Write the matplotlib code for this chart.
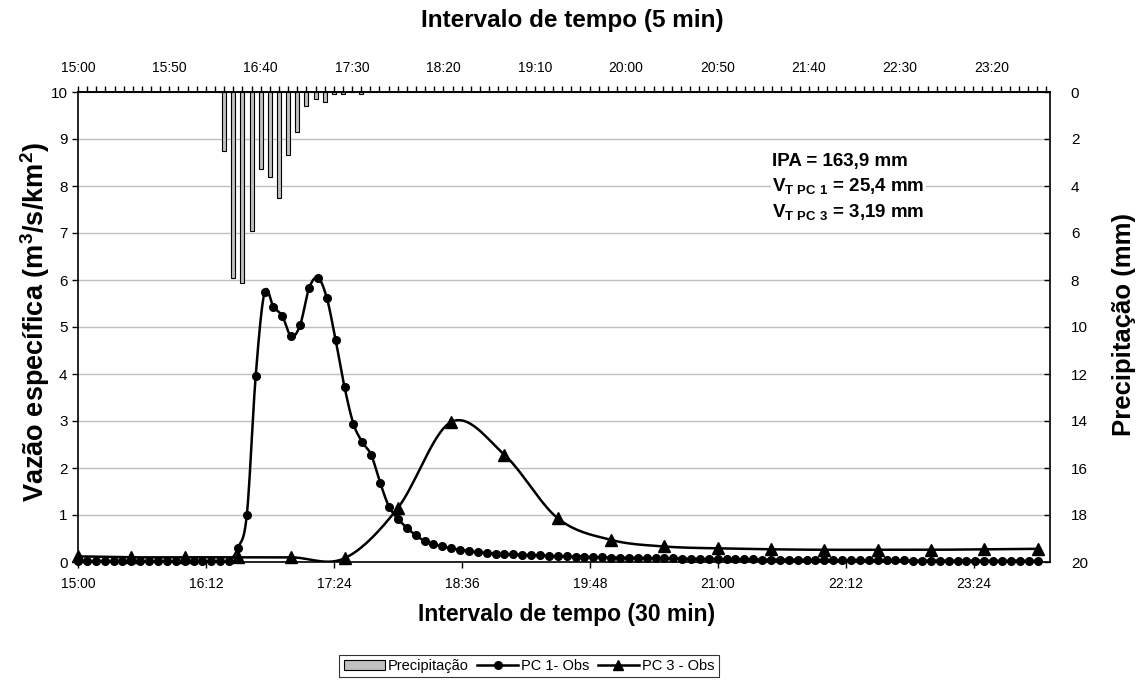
import numpy as np
import matplotlib
matplotlib.use("Agg")
import matplotlib.pyplot as plt
from matplotlib.patches import Rectangle
from matplotlib.lines import Line2D

plt.rcParams["font.family"] = ["Liberation Sans", "DejaVu Sans"]
plt.rcParams["mathtext.fontset"] = "custom"
plt.rcParams["mathtext.bf"] = "Liberation Sans:bold"
plt.rcParams["mathtext.rm"] = "Liberation Sans:bold"
plt.rcParams["mathtext.default"] = "bf"

# --- data (minutes after 15:00) ---
# precipitation, 5 min steps (top / right axes)
rain_min = [80, 85, 90, 95, 100, 105, 110, 115, 120, 125, 130, 135, 140, 145, 150, 155]
rain_mm = [2.50, 7.90, 8.11, 5.90, 3.29, 3.60, 4.50, 2.70, 1.72, 0.60, 0.30, 0.41,
           0.10, 0.10, 0.0, 0.10]

# PC 1 observed, every 5 min from 15:00
pc1_min = list(range(0, 545, 5))
pc1_q = [0.02] * 18 + [
    0.30, 1.00, 3.96, 5.74, 5.43, 5.23, 4.80, 5.04, 5.82, 6.05,
    5.62, 4.72, 3.72, 2.94, 2.55, 2.28, 1.69, 1.18, 0.92, 0.73,
    0.57, 0.45, 0.38, 0.33, 0.29, 0.26, 0.23, 0.21,
    0.19, 0.18, 0.17, 0.16, 0.15, 0.145, 0.14, 0.13, 0.125, 0.12,
    0.115, 0.11, 0.105, 0.10, 0.095, 0.09, 0.09, 0.085, 0.08, 0.08,
    0.075, 0.075, 0.07, 0.07, 0.065, 0.065, 0.06, 0.06, 0.06, 0.055,
    0.055, 0.05, 0.05, 0.05, 0.05, 0.045, 0.045, 0.045, 0.04, 0.04,
    0.04, 0.04, 0.04, 0.035, 0.035, 0.035, 0.035, 0.035, 0.03, 0.03,
    0.03, 0.03, 0.03, 0.03, 0.03, 0.03, 0.025, 0.025, 0.025, 0.025,
    0.025, 0.025, 0.025]

# PC 3 observed, every 30 min
pc3_min = list(range(0, 545, 30))
pc3_q = [0.12, 0.10, 0.10, 0.10, 0.10, 0.08, 1.15, 2.98, 2.28, 0.93,
         0.47, 0.33, 0.29, 0.27, 0.26, 0.26, 0.26, 0.27, 0.28]

top_labels = ["15:00", "15:50", "16:40", "17:30", "18:20", "19:10",
              "20:00", "20:50", "21:40", "22:30", "23:20"]
bottom_labels = ["15:00", "16:12", "17:24", "18:36", "19:48", "21:00", "22:12", "23:24"]


def smooth(x, y, n=20):
    # excel-like bezier smoothing through the points
    pts = np.column_stack([x, y]).astype(float)
    ext = np.vstack([pts[0], pts, pts[-1]])
    s = np.linspace(0, 1, n)[:, None]
    out = []
    for i in range(len(pts) - 1):
        p0, p1, p2, p3 = ext[i], ext[i + 1], ext[i + 2], ext[i + 3]
        c1 = p1 + (p2 - p0) / 6
        c2 = p2 - (p3 - p1) / 6
        out.append((1 - s) ** 3 * p1 + 3 * (1 - s) ** 2 * s * c1
                   + 3 * (1 - s) * s ** 2 * c2 + s ** 3 * p2)
    out = np.vstack(out)
    return out[:, 0], out[:, 1]


fig = plt.figure(figsize=(11.44, 6.84), dpi=100)
ax = fig.add_axes([78 / 1144, 1 - 562 / 684, 972 / 1144, 470 / 684])

# main axes: discharge
ax.set_xlim(0, 547)
ax.set_ylim(0, 10)
ax.set_yticks(range(0, 11))
ax.grid(axis="y", color="#c0c0c0", lw=1)
ax.set_axisbelow(True)
ax.set_xticks([72 * i for i in range(len(bottom_labels))])
ax.set_xticklabels(bottom_labels, fontsize=10)
ax.tick_params(axis="y", labelsize=11, direction="out", length=4, width=1)
ax.tick_params(axis="x", direction="out", length=4, width=1, pad=7)
for sp in ax.spines.values():
    sp.set_color("black")
    sp.set_linewidth(1.2)

xs, ys = smooth(pc1_min, pc1_q)
ax.plot(xs, ys, color="black", lw=1.8, zorder=3)
ax.plot(pc1_min, pc1_q, "o", color="black", ms=5.5, zorder=4, clip_on=False)
xs, ys = smooth(pc3_min, pc3_q)
ax.plot(xs, ys, color="black", lw=1.8, zorder=3)
ax.plot(pc3_min, pc3_q, "^", color="black", ms=9, zorder=4, clip_on=False)

fig.text(567 / 1144, 1 - 614 / 684, "Intervalo de tempo (30 min)", fontsize=16.5,
         fontweight="bold", ha="center", va="center")
fig.text(35 / 1144, 1 - 322 / 684, "Vazão específica (m$^3$/s/km$^2$)", fontsize=19.5,
         fontweight="bold", ha="center", va="center", rotation=90)

# secondary axes: precipitation (top x, right inverted y)
axr = ax.twinx()
axr.set_ylim(20, 0)
axr.set_yticks(range(0, 21, 2))
axr.tick_params(axis="y", labelsize=11, direction="in", length=4, width=1, pad=15)
for sp in axr.spines.values():
    sp.set_visible(False)
fig.text(1124 / 1144, 1 - 325 / 684, "Precipitação (mm)", fontsize=18.5,
         fontweight="bold", ha="center", va="center", rotation=90)

axt = axr.twiny()
axt.set_xlim(0, 532)
axt.set_xticks(range(0, 531, 5), minor=True)
axt.set_xticks(range(0, 501, 50))
axt.set_xticklabels(top_labels, fontsize=10)
axt.tick_params(axis="x", which="both", direction="out", length=4, width=1, pad=8)
for sp in axt.spines.values():
    sp.set_visible(False)
axt.spines["top"].set_visible(True)
axt.spines["top"].set_linewidth(1.2)
axt.bar(rain_min, rain_mm, width=2.2, color="#c0c0c0", edgecolor="black", lw=0.8, zorder=2)
fig.text(572 / 1144, 1 - 21 / 684, "Intervalo de tempo (5 min)", fontsize=17.5,
         fontweight="bold", ha="center", va="center")

# annotations
box = dict(facecolor="white", edgecolor="none", pad=1)
ann_y = [0.853, 0.80, 0.745]
ann_txt = ["IPA = 163,9 mm", r"$V_{T\ PC\ 1}$ = 25,4 mm", r"$V_{T\ PC\ 3}$ = 3,19 mm"]
for yy, tt in zip(ann_y, ann_txt):
    ax.text(0.714, yy, tt, transform=ax.transAxes, fontsize=13.5,
            fontweight="bold", va="center", bbox=box)

# legend
handles = [
    Rectangle((0, 0), 1, 1, facecolor="#c0c0c0", edgecolor="black", lw=0.8),
    Line2D([], [], color="black", lw=1.8, marker="o", ms=5.5),
    Line2D([], [], color="black", lw=1.8, marker="^", ms=7),
]
leg = fig.legend(handles, ["Precipitação", "PC 1- Obs", "PC 3 - Obs"], ncol=3,
                 loc="center", bbox_to_anchor=(529 / 1144, 1 - 666 / 684), fontsize=10.5,
                 frameon=True, fancybox=False, edgecolor="black", borderpad=0.3,
                 handlelength=2.8, handletextpad=0.2, columnspacing=0.6)
leg.get_frame().set_linewidth(0.8)

fig.savefig("out.png", dpi=100)
